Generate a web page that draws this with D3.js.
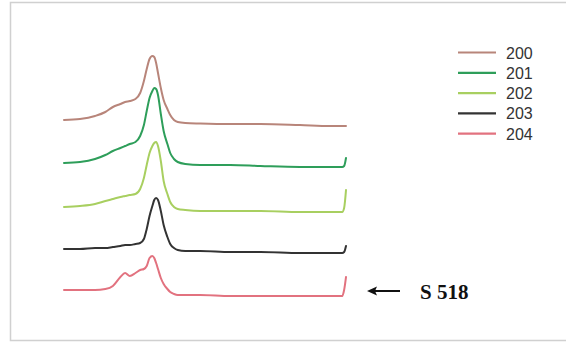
<!DOCTYPE html>
<html>
<head>
<meta charset="utf-8">
<script src="https://cdn.jsdelivr.net/npm/d3@7"></script>
<style>
  html, body { margin: 0; padding: 0; background: #fff; }
  #chart { width: 566px; height: 343px; }
  .legend text { font-family: "Liberation Sans", Arial, sans-serif; font-size: 16px; fill: #333; }
  .note { font-family: "Liberation Serif", "Times New Roman", serif; font-size: 21px; font-weight: bold; fill: #111; }
</style>
</head>
<body>
<div id="chart"></div>
<script>
// tempo di ritenzione (min), comune a tutte le tracce
const times = [2.0, 3.7, 5.3, 6.4, 7.2, 8.0, 8.5, 9.0, 9.6, 10.1, 10.5, 10.8, 11.1, 11.4,
  11.6, 11.8, 12.0, 12.3, 12.6, 13.0, 13.3, 13.7, 14.1, 14.9, 16.5, 19.7, 22.9, 27.1,
  30.3, 31.6, 31.8, 32.0];

// nomi dei campioni e scostamento verticale di ogni traccia
const samples = ['200', '201', '202', '203', '204'];
const offsets = [175, 134, 89, 48, 4];

// segnale di ogni campione (sopra la propria linea di base)
const s200 = [5, 6, 9, 13, 18, 21, 23, 24, 26, 32, 44, 56, 66, 69, 68, 62, 52, 37, 25, 16, 10, 5, 3, 2, 1.5, 1, 1, 0, -1, -1, -1, -1];
const s201 = [3, 4, 7, 11, 15, 18, 20, 22, 24, 30, 41, 55, 68, 75, 78, 77, 71, 52, 35, 22, 13, 7, 4, 2, 1, 1, 0, -1, -1, -1, 0, 8];
const s202 = [4, 5, 7, 10, 12, 14, 15, 16, 17, 22, 33, 46, 58, 65, 68, 69, 65, 50, 30, 17, 9, 4, 2, 1, 0, 0, 0, -1, -1, -1, 3, 21];
const s203 = [3, 3, 4, 4, 5, 6, 7, 7, 8, 9, 13, 23, 36, 46, 52, 54, 52, 41, 27, 15, 8, 4, 2, 1, 1, 0, 0, -1, -1, -1, 0, 6];
const s204 = [6, 6, 6, 7, 10, 19, 23, 20, 23, 26, 27, 30, 38, 40, 38, 33, 27, 18, 12, 7, 4, 2, 1, 1, 1, 0, 0, 0, 0, 0, 6, 19];
const signals = [s200, s201, s202, s203, s204];

const colors = ['#b8857a', '#2e9e5a', '#a8cf60', '#333333', '#e2727f'];

const width = 566, height = 343;

const svg = d3.select('#chart')
  .append('svg')
  .attr('width', width)
  .attr('height', height);

// cornice grigia
svg.append('path')
  .attr('d', `M566,2.5 H10.5 V340.5 H566`)
  .attr('fill', 'none')
  .attr('stroke', '#d0d0d0')
  .attr('stroke-width', 1.5);

const x = d3.scaleLinear().domain([2, 32]).range([64, 346]);
const y = d3.scaleLinear().domain([0, 250]).range([300, 50]);

const line = d3.line()
  .x(d => x(d[0]))
  .y(d => y(d[1]))
  .curve(d3.curveMonotoneX);

samples.forEach((name, i) => {
  const pts = times.map((t, k) => [t, signals[i][k] + offsets[i]]);
  svg.append('path')
    .datum(pts)
    .attr('fill', 'none')
    .attr('stroke', colors[i])
    .attr('stroke-width', 2)
    .attr('stroke-linejoin', 'round')
    .attr('stroke-linecap', 'round')
    .attr('d', line);
});

// legenda
const legend = svg.append('g').attr('class', 'legend');
samples.forEach((name, i) => {
  const ly = 52.5 + i * 20.3;
  legend.append('line')
    .attr('x1', 458).attr('x2', 496)
    .attr('y1', ly).attr('y2', ly)
    .attr('stroke', colors[i])
    .attr('stroke-width', 2.2);
  legend.append('text')
    .attr('x', 506).attr('y', ly + 6)
    .text(name);
});

// freccia verso il campione S 518
svg.append('line')
  .attr('x1', 373).attr('x2', 400)
  .attr('y1', 291).attr('y2', 291)
  .attr('stroke', '#111')
  .attr('stroke-width', 2);

svg.append('path')
  .attr('d', 'M367,291 L377,286.5 L375,291 L377,295.5 Z')
  .attr('fill', '#111');

svg.append('text')
  .attr('class', 'note')
  .attr('x', 420).attr('y', 299)
  .text('S 518');
</script>
</body>
</html>
